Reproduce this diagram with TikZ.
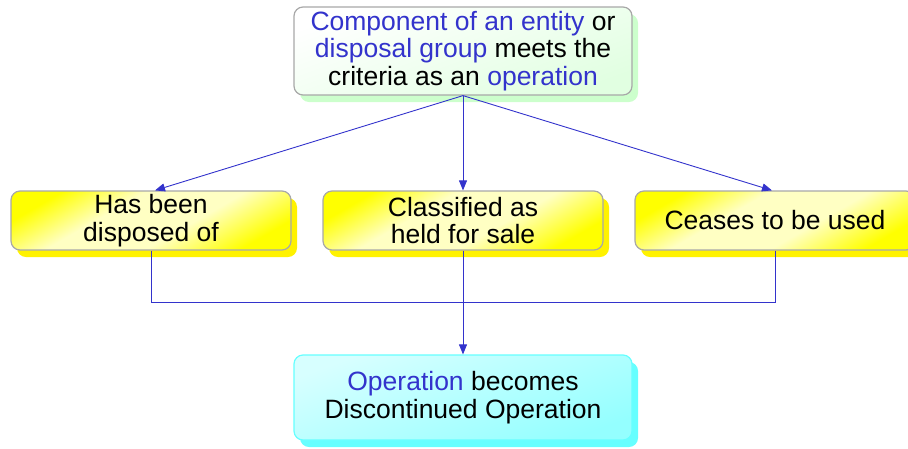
\documentclass[tikz,border=0pt]{standalone}
\usepackage{fontspec}
\setmainfont{Liberation Sans}
\usetikzlibrary{shadows,arrows.meta}
\definecolor{txtblue}{RGB}{51,51,204}
\definecolor{lnblue}{RGB}{51,51,204}
\definecolor{boxgray}{RGB}{168,168,168}
\definecolor{paleyel}{RGB}{255,255,195}
\definecolor{shgreen}{RGB}{204,255,204}
\definecolor{palegreen}{RGB}{225,255,225}
\definecolor{shcyan}{RGB}{102,255,255}
\definecolor{palecyan}{RGB}{215,255,255}
\pgfdeclareverticalshading{yelshade}{100bp}{color(0bp)=(yellow); color(25bp)=(yellow); color(42bp)=(paleyel); color(60bp)=(paleyel); color(75bp)=(yellow); color(100bp)=(yellow)}
\newcommand{\bl}[1]{\textcolor{txtblue}{#1}}
\tikzset{
  basebox/.style={rounded corners=9pt, inner sep=0pt, align=center,
    font=\fontsize{26.5}{27.5}\selectfont, line width=1.2pt},
  yelbox/.style={basebox, draw=boxgray, minimum width=280pt, minimum height=59pt,
    shading=yelshade, shading angle=30,
    drop shadow={shadow xshift=6pt, shadow yshift=-7pt, fill=yellow, opacity=1}},
  grnbox/.style={basebox, draw=boxgray, minimum width=338pt, minimum height=88pt,
    shading=axis, top color=white, bottom color=palegreen, shading angle=20,
    drop shadow={shadow xshift=6pt, shadow yshift=-7pt, fill=shgreen, opacity=1}},
  cynbox/.style={basebox, draw=shcyan, minimum width=338pt, minimum height=85pt,
    shading=axis, top color=palecyan, bottom color=shcyan!70, shading angle=20,
    drop shadow={shadow xshift=6pt, shadow yshift=-7pt, fill=shcyan, opacity=1}},
  conn/.style={draw=lnblue, line width=0.9pt},
  arr/.style={conn, -{Triangle[length=10pt,width=8pt]}}
}
\begin{document}
\begin{tikzpicture}[x=1pt,y=-1pt]
\useasboundingbox (0,0) rectangle (908,448);
\node[grnbox] (top) at (463,51) {\bl{Component of an entity} or\\\bl{disposal group} meets the\\criteria as an \bl{operation}};
\node[yelbox] (left) at (151,220.5) {Has been\\disposed of};
\node[yelbox] (mid) at (463,220.5) {Classified as\\held for sale};
\node[yelbox] (right) at (775,220.5) {Ceases to be used};
\node[cynbox] (bot) at (463,397.5) {\bl{Operation} becomes\\Discontinued Operation};
\coordinate (j) at (463,302);
\draw[arr] (top.south) -- ([xshift=4pt]left.north);
\draw[arr] (top.south) -- (mid.north);
\draw[arr] (top.south) -- ([xshift=-3pt]right.north);
\draw[conn] (left.south) |- (j);
\draw[conn] (right.south) |- (j);
\draw[conn] (mid.south) -- (j);
\draw[arr] (j) -- (bot.north);
\end{tikzpicture}
\end{document}
